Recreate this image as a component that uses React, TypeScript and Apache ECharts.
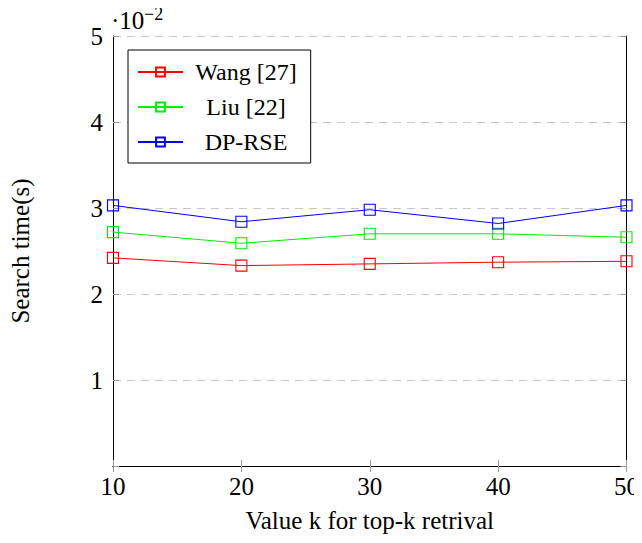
import React, { useEffect, useRef } from "react";
import * as echarts from "echarts";

const kValues = [10, 20, 30, 40, 50];
const wang = [2.42, 2.33, 2.35, 2.37, 2.38];
const liu = [2.72, 2.59, 2.7, 2.7, 2.66];
const dprse = [3.03, 2.84, 2.98, 2.82, 3.03];
const seriesNames = ["Wang [27]", "Liu [22]", "DP-RSE"];
const seriesColors = ["#ff0000", "#00ee00", "#0000ff"];

const FONT = "Liberation Serif";

export default function App() {
  const ref = useRef<HTMLDivElement>(null);
  useEffect(() => {
    const chart = echarts.init(ref.current!, null, { renderer: "svg" });
    const all = [wang, liu, dprse];
    const axisLine = { show: true, lineStyle: { color: "#000", width: 1 } };
    const tick = { show: true, inside: true, length: 6, lineStyle: { color: "#999" } };
    chart.setOption({
      animation: false,
      backgroundColor: "#fff",
      textStyle: { fontFamily: FONT },
      grid: { left: 113, right: 12, top: 36, bottom: 77 },
      legend: {
        orient: "vertical",
        left: 128,
        top: 50,
        padding: [10, 14, 9, 9],
        itemGap: 11,
        itemWidth: 45,
        itemHeight: 11,
        borderColor: "#000",
        borderWidth: 1,
        backgroundColor: "#fff",
        formatter: "{c|{name}}",
        textStyle: {
          fontFamily: FONT,
          fontSize: 24,
          color: "#000",
          rich: { c: { fontFamily: FONT, fontSize: 24, color: "#000", width: 116, align: "center" } },
        },
        data: seriesNames,
      },
      xAxis: [
        {
          type: "value",
          min: 10,
          max: 50,
          interval: 10,
          position: "bottom",
          axisLine,
          axisTick: tick,
          axisLabel: { fontFamily: FONT, fontSize: 25, color: "#000", margin: 8 },
          splitLine: { show: false },
          name: "Value k for top-k retrival",
          nameLocation: "middle",
          nameGap: 42,
          nameTextStyle: { fontFamily: FONT, fontSize: 25, color: "#000" },
        },
        {
          type: "value",
          min: 10,
          max: 50,
          interval: 10,
          position: "top",
          axisLine,
          axisTick: tick,
          axisLabel: { show: false },
          splitLine: { show: false },
        },
      ],
      yAxis: [
        {
          type: "value",
          min: 0,
          max: 5,
          interval: 1,
          position: "left",
          axisLine,
          axisTick: tick,
          axisLabel: {
            fontFamily: FONT,
            fontSize: 25,
            color: "#000",
            margin: 10,
            formatter: (v: number) => (v === 0 ? "" : String(v)),
          },
          splitLine: { show: true, lineStyle: { color: "#c8c8c8", type: [8, 6], width: 1 } },
          name: "Search time(s)",
          nameLocation: "middle",
          nameGap: 80,
          nameRotate: 90,
          nameTextStyle: { fontFamily: FONT, fontSize: 25, color: "#000" },
        },
        {
          type: "value",
          min: 0,
          max: 5,
          interval: 1,
          position: "right",
          axisLine,
          axisTick: tick,
          axisLabel: { show: false },
          splitLine: { show: false },
        },
      ],
      graphic: [
        {
          type: "text",
          left: 111,
          top: 8,
          style: { text: "·10", fontFamily: FONT, fontSize: 25, fill: "#000" },
        },
        {
          type: "text",
          left: 144,
          top: 5,
          style: { text: "−2", fontFamily: FONT, fontSize: 18, fill: "#000" },
        },
      ],
      series: all.map((vals, i) => ({
        name: seriesNames[i],
        type: "line",
        xAxisIndex: 0,
        yAxisIndex: 0,
        data: kValues.map((k, j) => [k, vals[j]]),
        symbol: "rect",
        symbolSize: 11,
        showAllSymbol: true,
        lineStyle: { color: seriesColors[i], width: 1 },
        itemStyle: { color: "transparent", borderColor: seriesColors[i], borderWidth: 1.1 },
        emphasis: { disabled: true },
      })),
    });
    return () => chart.dispose();
  }, []);
  return <div ref={ref} style={{ width: 642, height: 543, margin: -8 }} />;
}
